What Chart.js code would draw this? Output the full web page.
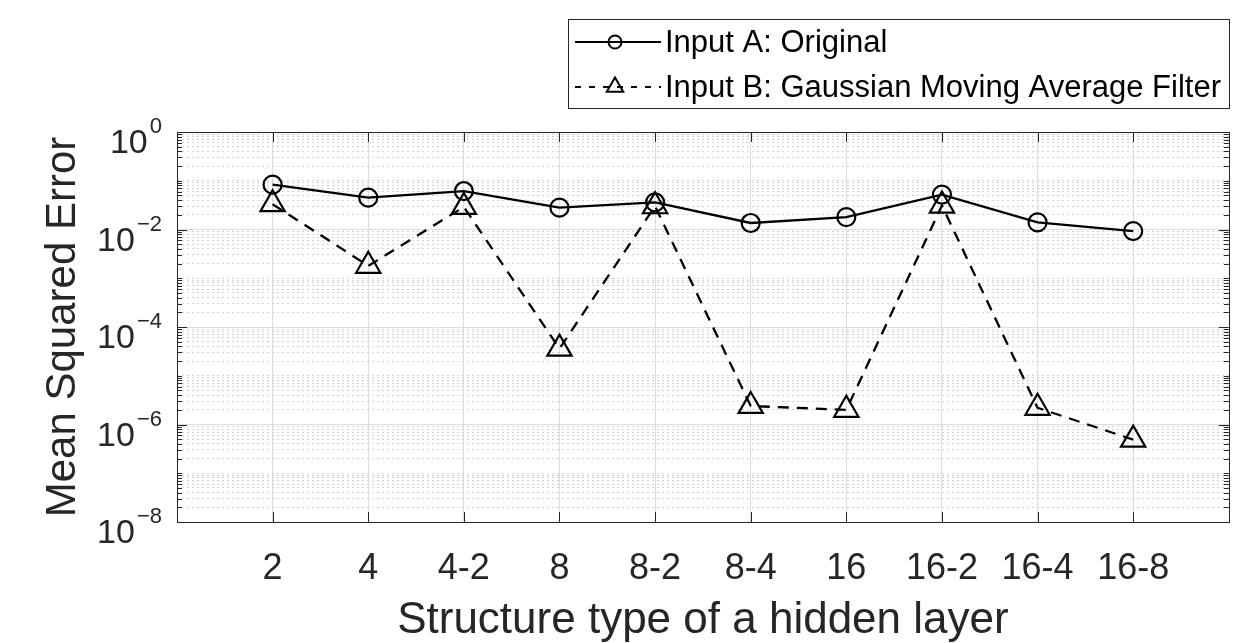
<!DOCTYPE html>
<html>
<head>
<meta charset="utf-8">
<script src="https://cdn.jsdelivr.net/npm/chart.js@4.4.0/dist/chart.umd.min.js"></script>
<style>
  html, body { margin: 0; padding: 0; background: #fff; }
  #wrap { width: 1245px; height: 643px; }
</style>
</head>
<body>
<div id="wrap"><canvas id="myChart" width="1245" height="643"></canvas></div>
<script>
// values (log scale)
const structures = ['2', '4', '4-2', '8', '8-2', '8-4', '16', '16-2', '16-4', '16-8'];
const inputA = [0.083, 0.045, 0.061, 0.028, 0.036, 0.0136, 0.018, 0.052, 0.014, 0.0093];
const inputB = [0.033, 0.0018, 0.029, 3.6e-5, 0.030, 2.4e-6, 2.0e-6, 0.031, 2.2e-6, 4.9e-7];
const yMajorTicks = [1e-8, 1e-6, 1e-4, 1e-2, 1];
const seriesNames = ['Input A: Original', 'Input B: Gaussian Moving Average Filter'];

const FONT = "'Liberation Sans', Arial, Helvetica, sans-serif";
const AXIS_COLOR = '#262626';

// minor log lines: 2..9 x 10^e plus the odd decades
const yMinorTicks = [];
for (let e = -8; e < 0; e++) {
    for (let k = 1; k <= 9; k++) {
        const v = k * Math.pow(10, e);
        if (!yMajorTicks.some(m => Math.abs(m - v) / v < 1e-9)) yMinorTicks.push(v);
    }
}

const toPoints = arr => arr.map((v, i) => ({ x: i + 1, y: v }));

// box, inward tick marks and 10^n labels like the MATLAB figure
const boxPlugin = {
    id: 'matlabBox',
    afterDatasetsDraw(chart) {
        const { ctx, chartArea: a, scales } = chart;
        ctx.save();
        ctx.strokeStyle = AXIS_COLOR;
        ctx.lineWidth = 1;
        ctx.beginPath();
        scales.x.ticks.forEach(t => {
            const px = Math.round(scales.x.getPixelForValue(t.value)) + 0.5;
            ctx.moveTo(px, a.bottom); ctx.lineTo(px, a.bottom - 10);
            ctx.moveTo(px, a.top); ctx.lineTo(px, a.top + 10);
        });
        scales.yMinor.ticks.forEach(t => {
            const py = Math.round(scales.y.getPixelForValue(t.value)) + 0.5;
            ctx.moveTo(a.left, py); ctx.lineTo(a.left + 5, py);
            ctx.moveTo(a.right, py); ctx.lineTo(a.right - 5, py);
        });
        scales.y.ticks.forEach(t => {
            const py = Math.round(scales.y.getPixelForValue(t.value)) + 0.5;
            ctx.moveTo(a.left, py); ctx.lineTo(a.left + 10, py);
            ctx.moveTo(a.right, py); ctx.lineTo(a.right - 10, py);
        });
        ctx.stroke();
        ctx.strokeRect(Math.round(a.left) + 0.5, Math.round(a.top) + 0.5,
            Math.round(a.right - a.left), Math.round(a.bottom - a.top));

        // y tick labels with superscript exponents
        ctx.fillStyle = AXIS_COLOR;
        ctx.textBaseline = 'alphabetic';
        ctx.textAlign = 'right';
        const right = a.left - 15;
        yMajorTicks.forEach(v => {
            const py = scales.y.getPixelForValue(v);
            const e = Math.round(Math.log10(v));
            const expText = e < 0 ? '\u2212' + (-e) : String(e);
            ctx.font = '22px ' + FONT;
            const expW = ctx.measureText(expText).width;
            ctx.fillText(expText, right, py + 1);
            ctx.font = '34px ' + FONT;
            ctx.fillText('10', right - expW - 2, py + 21);
        });
        ctx.restore();
    }
};

// boxed legend in the top right corner
const legendPlugin = {
    id: 'boxLegend',
    afterDraw(chart) {
        const { ctx } = chart;
        const ds = chart.data.datasets;
        const box = { left: 568, top: 19, right: 1229, bottom: 108 };
        const rows = [42, 87];
        ctx.save();
        ctx.fillStyle = '#fff';
        ctx.fillRect(box.left, box.top, box.right - box.left, box.bottom - box.top);
        ctx.strokeStyle = AXIS_COLOR;
        ctx.lineWidth = 1;
        ctx.strokeRect(box.left + 0.5, box.top + 0.5, box.right - box.left, box.bottom - box.top);

        ds.forEach((d, i) => {
            const y = rows[i];
            ctx.strokeStyle = d.borderColor;
            ctx.lineWidth = 2;
            ctx.setLineDash(i === 1 ? [6, 8] : []);
            ctx.beginPath();
            ctx.moveTo(575, y); ctx.lineTo(661, y);
            ctx.stroke();
            ctx.setLineDash([]);
            ctx.fillStyle = 'rgba(0,0,0,0)';
            Chart.helpers.drawPoint(ctx, {
                pointStyle: d.pointStyle,
                radius: i === 1 ? 9.5 : 6.5,
                rotation: 0,
                borderWidth: 2
            }, 615, y);
            ctx.fillStyle = '#000';
            ctx.font = '31px ' + FONT;
            ctx.textBaseline = 'middle';
            ctx.textAlign = 'left';
            ctx.fillText(d.label, 665, y + 1);
        });
        ctx.restore();
    }
};

const ctx = document.getElementById('myChart').getContext('2d');

const myChart = new Chart(ctx, {
    type: 'line',
    data: {
        datasets: [
            {
                label: seriesNames[0],
                data: toPoints(inputA),
                borderColor: '#000',
                borderWidth: 2.3,
                pointStyle: 'circle',
                pointRadius: 9,
                pointBorderWidth: 2.2,
                pointBorderColor: '#000',
                pointBackgroundColor: 'rgba(0,0,0,0)',
                tension: 0,
            },
            {
                label: seriesNames[1],
                data: toPoints(inputB),
                borderColor: '#000',
                borderWidth: 2.3,
                borderDash: [11, 8],
                pointStyle: 'triangle',
                pointRadius: 14,
                pointBorderWidth: 2.2,
                pointBorderColor: '#000',
                pointBackgroundColor: 'rgba(0,0,0,0)',
                tension: 0,
            },
        ],
    },
    options: {
        responsive: false,
        animation: false,
        devicePixelRatio: 1,
        layout: { padding: { top: 132, right: 16, left: 0, bottom: 0 } },
        plugins: {
            legend: { display: false },
            tooltip: { enabled: false },
        },
        scales: {
            x: {
                type: 'linear',
                min: 0,
                max: 11,
                afterBuildTicks: scale => {
                    scale.ticks = structures.map((s, i) => ({ value: i + 1 }));
                },
                afterFit: scale => { scale.height = 121; },
                ticks: {
                    autoSkip: false,
                    maxRotation: 0,
                    padding: 29,
                    color: AXIS_COLOR,
                    font: { family: FONT, size: 36, lineHeight: 1 },
                    callback: v => structures[v - 1],
                },
                grid: { color: '#dcdcdc', lineWidth: 1, drawTicks: false },
                border: { display: false },
                title: {
                    display: true,
                    text: 'Structure type of a hidden layer',
                    color: AXIS_COLOR,
                    font: { family: FONT, size: 44, lineHeight: 1 },
                    padding: { top: 0, bottom: 0 },
                },
            },
            y: {
                type: 'logarithmic',
                position: 'left',
                min: 1e-8,
                max: 1,
                afterBuildTicks: scale => {
                    scale.ticks = yMajorTicks.map(v => ({ value: v }));
                },
                afterFit: scale => { scale.width = 177; },
                ticks: { display: false },
                grid: { color: '#dcdcdc', lineWidth: 1, drawTicks: false },
                border: { display: false },
                title: {
                    display: true,
                    text: 'Mean Squared Error',
                    color: AXIS_COLOR,
                    font: { family: FONT, size: 42, lineHeight: 1 },
                    padding: { top: 42, bottom: 0 },
                },
            },
            yMinor: {
                type: 'logarithmic',
                position: 'left',
                min: 1e-8,
                max: 1,
                afterBuildTicks: scale => {
                    scale.ticks = yMinorTicks.map(v => ({ value: v }));
                },
                afterFit: scale => { scale.width = 0; },
                ticks: { display: false },
                grid: { color: '#d2d2d2', lineWidth: 1, drawTicks: false },
                border: { display: false, dash: [2, 3] },
            },
        },
    },
    plugins: [boxPlugin, legendPlugin],
});
</script>
</body>
</html>
